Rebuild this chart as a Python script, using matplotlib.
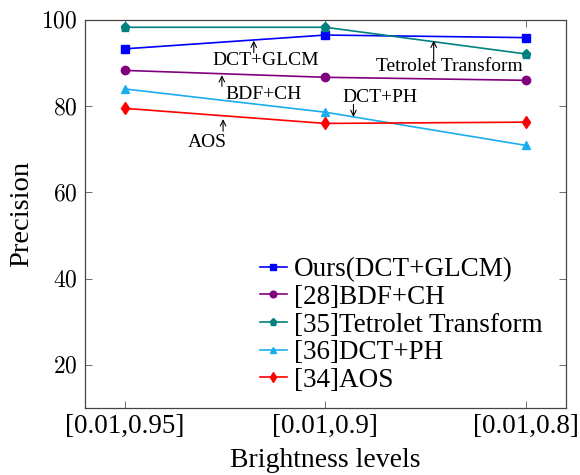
"""Precision vs brightness levels line chart."""

import matplotlib
matplotlib.use("Agg")
import matplotlib.pyplot as plt

plt.rcParams["font.family"] = ["Liberation Serif", "DejaVu Serif"]
plt.rcParams["mathtext.fontset"] = "cm"

levels = ["[0.01,0.95]", "[0.01,0.9]", "[0.01,0.8]"]
ours = [93.3, 96.5, 95.9]
bdf_ch = [88.3, 86.7, 86.0]
tetrolet = [98.3, 98.3, 92.1]
dct_ph = [84.0, 78.6, 70.9]
aos = [79.5, 76.0, 76.3]

series = [
    ("Ours(DCT+GLCM)", ours, "#0000ff", "s", 6),
    ("[28]BDF+CH", bdf_ch, "#800080", "o", 6),
    ("[35]Tetrolet Transform", tetrolet, "#008080", "p", 6.5),
    ("[36]DCT+PH", dct_ph, "#1aaeef", "^", 6),
    ("[34]AOS", aos, "#ff0000", "d", 6),
]

# (text, text xy, arrow tail, arrow head)
notes = [
    ("DCT+GLCM", (0.70, 90.6), (0.643, 92.4), (0.643, 95.2)),
    ("Tetrolet Transform", (1.62, 89.1), (1.54, 90.0), (1.54, 95.2)),
    ("BDF+CH", (0.69, 82.6), (0.484, 84.6), (0.484, 87.2)),
    ("DCT+PH", (1.27, 82.0), (1.14, 80.4), (1.14, 77.5)),
    ("AOS", (0.41, 71.5), (0.49, 74.2), (0.49, 77.0)),
]

fig = plt.figure(figsize=(5.8, 4.75), dpi=100)
ax = fig.add_axes([0.146, 0.141, 0.830, 0.817])

x = list(range(len(levels)))
for label, vals, color, marker, ms in series:
    ax.plot(x, vals, color=color, marker=marker, markersize=ms,
            linewidth=1.2, label=label)

for text, txy, tail, head in notes:
    ax.text(txy[0], txy[1], text, ha="center", va="center", fontsize=14)
    ax.annotate("", xy=head, xytext=tail,
                arrowprops=dict(arrowstyle="->", color="black", lw=0.8,
                                shrinkA=0, shrinkB=0))

ax.set_xlim(-0.2, 2.2)
ax.set_ylim(10, 100)
ax.set_xticks(x)
ax.set_xticklabels(levels, fontsize=19.5)
ax.set_yticks([20, 40, 60, 80, 100])
ax.set_yticklabels([f"${v}$" for v in [20, 40, 60, 80, 100]], fontsize=17)
ax.tick_params(direction="in", length=5, width=0.6, color="#555555",
               top=True, right=True, pad=5)
ax.tick_params(axis="x", pad=4)
for s in ax.spines.values():
    s.set_color("#444444")
    s.set_linewidth(0.9)

ax.set_xlabel("Brightness levels", fontsize=20, labelpad=7)
ax.set_ylabel("Precision", fontsize=20.5, labelpad=5)

ax.legend(loc="lower right", bbox_to_anchor=(0.99, -0.01), frameon=False,
          fontsize=19.5, handlelength=1.0, handletextpad=0.25,
          labelspacing=0.1, borderpad=0.2, markerscale=0.8)

fig.savefig("out.png", dpi=100)
